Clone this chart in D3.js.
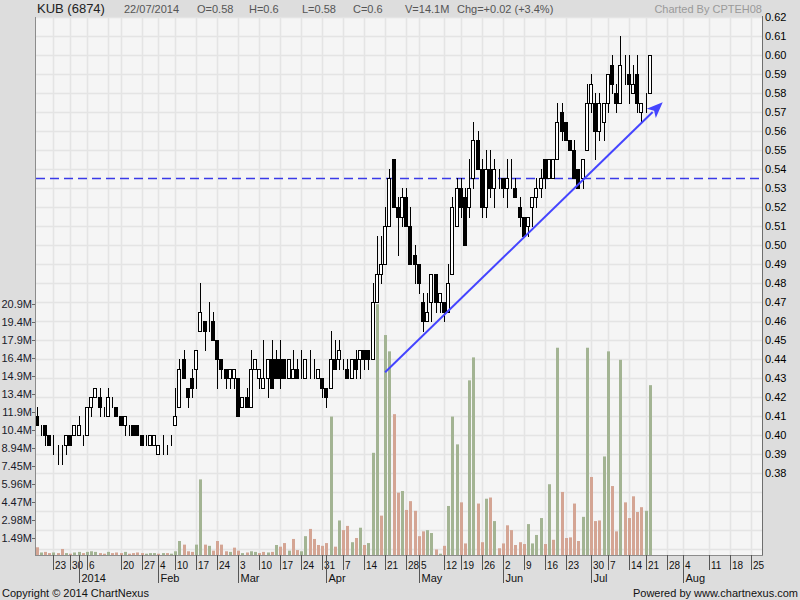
<!DOCTYPE html>
<html><head><meta charset="utf-8">
<script src="https://cdn.jsdelivr.net/npm/d3@7"></script>
<style>
body{margin:0;background:#dddddd;}
svg{display:block;font-family:"Liberation Sans",Arial,sans-serif;}
</style>
</head><body>
<svg id="chart" width="800" height="600"></svg>
<script>
// ---------- DATA (one entry per trading day, 23 Dec 2013 -> 22 Jul 2014 shown) ----------
const opens = [
.41,.405,.405,.40,.395,.39,.39,.395,.40,.40,
.40,.40,.40,.415,.42,.42,.415,.41,.42,.415,
.41,.405,.405,.405,.405,.40,.40,.395,.395,.39,
.395,.395,.40,.405,.415,.44,.425,.43,.435,.455,
.46,.46,.46,.45,.44,.435,.43,.43,.43,.415,
.42,.415,.435,.43,.425,.43,.44,.44,.44,.44,
.43,.43,.435,.44,.43,.44,.435,.43,.43,.425,
.425,.44,.44,.44,.435,.43,.44,.44,.445,.445,
.44,.47,.485,.49,.51,.545,.52,.515,.525,.51,
.495,.49,.47,.46,.47,.485,.47,.47,.465,.485,
.51,.53,.525,.52,.535,.555,.54,.52,.54,.53,
.535,.535,.53,.535,.53,.52,.515,.51,.52,.525,
.53,.545,.535,.535,.545,.57,.565,.555,.55,.54,
.535,.55,.575,.575,.56,.565,.575,.595,.58,.575,
.59,.59,.58,.59,.57,.58,.58];
const highs = [
.415,.405,.405,.40,.40,.395,.395,.40,.40,.405,
.41,.40,.415,.42,.425,.425,.415,.425,.42,.415,
.41,.41,.405,.405,.405,.40,.40,.40,.40,.395,
.40,.395,.40,.425,.44,.445,.425,.435,.445,.48,
.46,.47,.465,.45,.44,.435,.435,.435,.43,.42,
.425,.445,.44,.435,.45,.44,.45,.445,.45,.44,
.44,.445,.44,.445,.44,.445,.44,.435,.43,.425,
.455,.45,.45,.44,.44,.44,.445,.445,.445,.445,
.48,.505,.505,.52,.54,.545,.525,.53,.53,.52,
.50,.49,.475,.475,.485,.485,.475,.47,.49,.525,
.535,.535,.53,.545,.565,.56,.545,.55,.55,.545,
.54,.535,.545,.545,.535,.525,.515,.515,.525,.535,
.54,.545,.545,.545,.575,.575,.565,.555,.555,.54,
.545,.585,.59,.58,.58,.575,.59,.60,.585,.61,
.60,.60,.595,.60,.575,.58,.60];
const lows = [
.405,.40,.395,.395,.39,.385,.385,.39,.395,.40,
.40,.395,.40,.41,.42,.41,.41,.41,.415,.41,
.405,.40,.40,.40,.40,.395,.395,.395,.395,.39,
.39,.39,.395,.405,.415,.43,.415,.42,.425,.455,
.445,.455,.45,.425,.43,.425,.425,.425,.41,.415,
.415,.415,.435,.425,.425,.42,.425,.43,.425,.43,
.43,.43,.43,.43,.43,.43,.43,.43,.42,.415,
.425,.435,.435,.435,.43,.43,.43,.43,.435,.435,
.44,.47,.48,.49,.51,.52,.495,.51,.51,.49,
.48,.475,.455,.46,.46,.465,.465,.46,.465,.485,
.51,.515,.50,.515,.53,.54,.515,.515,.525,.52,
.53,.525,.52,.53,.525,.51,.505,.505,.51,.52,
.525,.53,.535,.535,.545,.555,.555,.55,.535,.53,
.53,.55,.57,.545,.555,.555,.57,.58,.57,.575,
.585,.575,.58,.57,.565,.57,.58];
const closes = [
.405,.405,.40,.395,.395,.39,.39,.40,.395,.405,
.405,.40,.415,.42,.425,.415,.415,.42,.42,.41,
.405,.41,.405,.40,.40,.395,.40,.40,.40,.395,
.395,.395,.40,.41,.435,.43,.42,.425,.445,.465,
.455,.46,.45,.44,.435,.43,.435,.435,.41,.42,
.415,.435,.44,.435,.43,.44,.425,.43,.43,.43,
.44,.435,.43,.44,.44,.44,.435,.435,.425,.42,
.44,.435,.445,.44,.43,.44,.435,.445,.44,.44,
.47,.485,.49,.51,.535,.52,.515,.525,.51,.49,
.49,.48,.46,.465,.485,.47,.475,.465,.48,.52,
.53,.52,.50,.53,.555,.54,.52,.54,.53,.54,
.535,.53,.535,.535,.525,.515,.505,.515,.525,.53,
.535,.535,.545,.545,.565,.56,.555,.55,.535,.53,
.545,.575,.585,.56,.575,.575,.59,.585,.575,.595,
.59,.585,.585,.575,.575,.58,.60];
// volume in millions of shares
const volumes = [
0.68,0.25,0.3,0.2,0.25,0.2,0.54,0.2,0.15,0.25,
0.3,0.2,0.3,0.35,0.3,0.2,0.15,0.3,0.2,0.25,
0.2,0.3,0.15,0.2,0.25,0.2,0.15,0.2,0.2,0.15,
0.2,0.2,0.15,0.35,1.2,0.9,0.35,0.3,0.9,6.3,
0.9,0.8,0.4,1.2,0.9,0.35,0.3,0.65,0.4,0.2,
0.25,0.35,0.3,0.2,0.3,0.25,0.3,0.87,0.73,1.03,
0.4,1.37,0.45,0.35,1.6,2.2,1.37,0.87,0.8,1.03,
11.5,0.73,2.9,2.1,2.45,1.1,1.45,2.3,0.87,1.03,
8.5,20.8,3.3,18.25,16.9,11.7,5.2,5.34,3.77,4.5,
3.7,1.6,2.0,2.1,1.86,0.5,0.15,0.8,4.1,11.5,
9.2,4.4,1.0,14.5,16.4,4.3,1.1,4.7,4.8,2.85,
0.6,1.0,2.5,2.1,0.87,1.1,0.95,2.6,1.0,1.7,
3.1,0.95,5.9,1.3,17.2,5.26,1.45,1.5,4.3,1.2,
3.2,17.2,6.5,2.85,2.9,8.2,16.9,5.75,2.0,16.2,
4.4,3.1,4.9,3.6,4.0,3.7,14.1];
// volume bar direction: u = up day, d = down day
const volDir = [
"dudduddudu","uduuuddudd","dudddduuud","uduuuddduu","dudddduddu",
"duuddududd","udduuddddd","ududdududu","uuduuddudd","ddduududuu",
"udduuddudu","ddddddduuu","udududdddd","uuddduuddu","ddddduu"].join("");

const priceTicks = [0.62,0.61,0.60,0.59,0.58,0.57,0.56,0.55,0.54,0.53,0.52,0.51,0.50,
                    0.49,0.48,0.47,0.46,0.45,0.44,0.43,0.42,0.41,0.40,0.39,0.38];
const priceGrid = [0.62,0.61,0.60,0.59,0.58,0.57,0.56,0.55,0.54,0.53,0.52,0.51,0.50,0.49,0.48,
                   0.47,0.46,0.45,0.44,0.43,0.42,0.41,0.40,0.39,0.38,0.37,0.36,0.35,0.34];
const volTicks = [1.49,2.98,4.47,5.96,7.45,8.94,10.43,11.92,13.41,14.9,16.39,17.88,19.37,20.86];
const volTickLabels = ["1.49M","2.98M","4.47M","5.96M","7.45M","8.94M","10.4M","11.9M",
                       "13.4M","14.9M","16.4M","17.9M","19.4M","20.9M"];
// week ticks: trading-day index and label
const dayTickIdx = [4,8,12,20,25,29,33,38,43,48,53,58,63,68,73,78,83,88,91,97,101,106,
                    111,116,121,126,132,136,141,145,150,154,160,165,170];
const dayTickLabels = ["23","30","6","20","27","4","10","17","24","3","10","17","24","31",
                       "7","14","21","28","5","12","19","26","2","9","16","23","30","7",
                       "14","21","28","4","11","18","25"];
const extraGridIdx = [17];
const monthTickIdx = [10,29,48,69,91,111,132,154];
const monthTickLabels = ["2014","Feb","Mar","Apr","May","Jun","Jul","Aug"];
const resistanceLevel = 0.535;
const trendFrom = [83, 0.433];     // [day index, price]
const trendTo = [149.1, 0.5751];   // arrow tip
const headerItems = ["22/07/2014","O=0.58","H=0.6","L=0.58","C=0.6","V=14.1M","Chg=+0.02 (+3.4%)"];

// ---------- CHART ----------
const svg = d3.select("#chart");
const L = 36, R = 762, T = 17, B = 555;

const x = d3.scaleLinear().domain([0, 146]).range([36.5, 36.5 + 4.2 * 146]);
const y = d3.scaleLinear().domain([0.34, 0.62]).range([549, 17]);
const vy = d3.scaleLinear().domain([0, 20.86]).range([555.5, 555.5 - 20.86 * 12.08]);
const px = i => Math.round(x(i));
const py = p => Math.round(y(p)) + 0.5;

svg.append("rect").attr("width", 800).attr("height", 600).attr("fill", "#dddddd");
svg.append("rect").attr("x", L).attr("y", T).attr("width", R - L).attr("height", B - T).attr("fill", "#f5f5f5");

// grid
const grid = svg.append("g").attr("stroke", "#e4e4e4").attr("stroke-width", 1.5);
grid.selectAll("line.h").data(priceGrid).join("line")
  .attr("x1", L).attr("x2", R).attr("y1", d => py(d)).attr("y2", d => py(d));
grid.selectAll("line.v").data(dayTickIdx.concat(extraGridIdx)).join("line")
  .attr("x1", d => px(d) + 0.5).attr("x2", d => px(d) + 0.5).attr("y1", T).attr("y2", B);

// volume bars
const days = d3.range(opens.length);
svg.append("g").selectAll("rect").data(days).join("rect")
  .attr("x", i => px(i) - 1).attr("width", 3)
  .attr("y", i => vy(volumes[i])).attr("height", i => Math.max(0, 555 - vy(volumes[i])))
  .attr("fill", i => volDir[i] === "u" ? "#a3b493" : "#d4a594");

// resistance dashed line
svg.append("line").attr("x1", L).attr("x2", R)
  .attr("y1", y(resistanceLevel)).attr("y2", y(resistanceLevel))
  .attr("stroke", "#3a3ae8").attr("stroke-width", 1.6).attr("stroke-dasharray", "9,5");

// candles
const cg = svg.append("g");
cg.selectAll("line").data(days).join("line")
  .attr("x1", i => px(i) + 0.5).attr("x2", i => px(i) + 0.5)
  .attr("y1", i => py(highs[i]) - 0.5).attr("y2", i => py(lows[i]) + 0.5)
  .attr("stroke", "#000").attr("stroke-width", 1);
cg.selectAll("rect").data(days).join("rect")
  .attr("x", i => px(i) - 1.5).attr("width", 3)
  .attr("y", i => py(Math.max(opens[i], closes[i])))
  .attr("height", i => py(Math.min(opens[i], closes[i])) - py(Math.max(opens[i], closes[i])))
  .attr("fill", i => closes[i] < opens[i] ? "#000" : "#fff")
  .attr("stroke", "#000").attr("stroke-width", 1);

// trend arrow
const x0 = x(trendFrom[0]), y0 = y(trendFrom[1]), x1 = x(trendTo[0]), y1 = y(trendTo[1]);
const ang = Math.atan2(y1 - y0, x1 - x0), hl = 16, hw = 6.5;
const bx = x1 - hl * Math.cos(ang), by = y1 - hl * Math.sin(ang);
svg.append("line").attr("x1", x0).attr("y1", y0).attr("x2", bx + 2 * Math.cos(ang)).attr("y2", by + 2 * Math.sin(ang))
  .attr("stroke", "#4444ff").attr("stroke-width", 2);
svg.append("path").attr("fill", "#4444ff")
  .attr("d", `M${x1},${y1}L${bx - hw * Math.sin(ang)},${by + hw * Math.cos(ang)}L${bx + 4*Math.cos(ang)},${by + 4*Math.sin(ang)}L${bx + hw * Math.sin(ang)},${by - hw * Math.cos(ang)}Z`);

// axes lines
svg.append("line").attr("x1", 35.5).attr("x2", 35.5).attr("y1", T).attr("y2", B + 1).attr("stroke", "#8c8c8c");
svg.append("line").attr("x1", R + 0.5).attr("x2", R + 0.5).attr("y1", T - 1).attr("y2", B + 1).attr("stroke", "#6e6e6e");
svg.append("line").attr("x1", 35).attr("x2", R + 1).attr("y1", B + 0.5).attr("y2", B + 0.5).attr("stroke", "#8c8c8c");

// right price labels
svg.append("g").selectAll("text").data(priceTicks).join("text")
  .attr("x", 765).attr("y", d => y(d) + 4).attr("font-size", 11).attr("fill", "#000")
  .text(d => d.toFixed(2));

// left volume labels
const lv = svg.append("g");
lv.selectAll("text").data(volTicks).join("text")
  .attr("x", 32).attr("y", d => vy(d) + 4).attr("text-anchor", "end").attr("font-size", 11).attr("fill", "#1a1a2a")
  .text((d, i) => volTickLabels[i]);
lv.selectAll("line").data(volTicks).join("line")
  .attr("x1", 32).attr("x2", 35).attr("y1", d => Math.round(vy(d)) + 0.5).attr("y2", d => Math.round(vy(d)) + 0.5)
  .attr("stroke", "#666");

// bottom axis
const bx2 = svg.append("g");
bx2.selectAll("line.d").data(dayTickIdx).join("line")
  .attr("x1", d => px(d) + 0.5).attr("x2", d => px(d) + 0.5).attr("y1", B).attr("y2", 570).attr("stroke", "#555");
bx2.selectAll("text.d").data(dayTickIdx).join("text")
  .attr("x", d => px(d) + 2).attr("y", 569).attr("font-size", 10).attr("fill", "#111")
  .text((d, i) => dayTickLabels[i]);
bx2.selectAll("line.m").data(monthTickIdx).join("line")
  .attr("x1", d => px(d) + 0.5).attr("x2", d => px(d) + 0.5).attr("y1", B).attr("y2", 583).attr("stroke", "#555");
bx2.selectAll("text.m").data(monthTickIdx).join("text")
  .attr("x", d => px(d) + 2.5).attr("y", 582).attr("font-size", 11).attr("fill", "#111")
  .text((d, i) => monthTickLabels[i]);

// header
svg.append("text").attr("x", 37).attr("y", 13).attr("font-size", 13).attr("fill", "#222").text("KUB (6874)");
const hx = [124, 197, 249, 302, 353, 405, 457];
svg.append("g").selectAll("text").data(headerItems).join("text")
  .attr("x", (d, i) => hx[i]).attr("y", 13).attr("font-size", 11).attr("fill", "#555").text(d => d);
svg.append("text").attr("x", 762).attr("y", 13).attr("text-anchor", "end").attr("font-size", 11)
  .attr("fill", "#9a9a9a").text("Charted By CPTEH08");

// footer
svg.append("text").attr("x", 2).attr("y", 597).attr("font-size", 11).attr("fill", "#111").text("Copyright © 2014 ChartNexus");
svg.append("text").attr("x", 798).attr("y", 597).attr("text-anchor", "end").attr("font-size", 11).attr("fill", "#111").text("Powered by www.chartnexus.com");
</script>
</body></html>
